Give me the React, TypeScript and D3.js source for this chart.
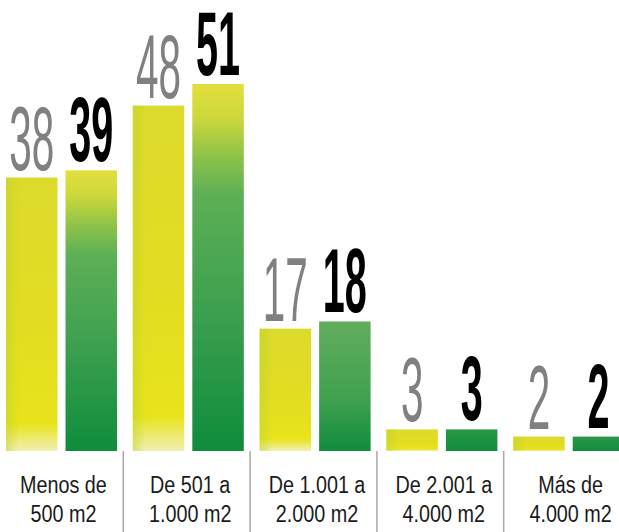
import React, { useEffect } from "react";
import * as d3 from "d3";

// Chart data
const categories = ["Menos de|500 m2", "De 501 a|1.000 m2", "De 1.001 a|2.000 m2", "De 2.001 a|4.000 m2", "Más de|4.000 m2"];
const series = ["s1", "s2"];
const valuesS1 = [38, 48, 17, 3, 2];
const valuesS2 = [39, 51, 18, 3, 2];

const W = 619;
const H = 532;
const baseY = 451;

const App: React.FC = () => {
  useEffect(() => {
    document.body.style.margin = "0";
  }, []);

  const x0 = d3.scaleBand().domain(categories).range([-4, 630]).paddingInner(0);
  const x1 = d3.scaleBand().domain(series).range([10, 121]).paddingInner(0.135);
  const y = d3.scaleLinear().domain([0, 51]).range([baseY, 84]);

  const font = "'Liberation Sans', Arial, sans-serif";

  return (
    <svg width={W} height={H} style={{ display: "block", background: "#fff" }}>
      <defs>
        <linearGradient id="yellowGrad" x1="0" y1="0" x2="0" y2="1">
          <stop offset="0%" stopColor="#dcda2c" />
          <stop offset="50%" stopColor="#e2dc22" />
          <stop offset="90%" stopColor="#e8e31c" />
          <stop offset="100%" stopColor="#f1f0b4" />
        </linearGradient>
        <linearGradient id="yellowSide" x1="0" y1="0" x2="1" y2="0">
          <stop offset="0%" stopColor="#b9d030" stopOpacity="0.45" />
          <stop offset="25%" stopColor="#b9d030" stopOpacity="0" />
          <stop offset="100%" stopColor="#ffffff" stopOpacity="0" />
        </linearGradient>
        {valuesS2.map((v, i) => {
          const top = y(v);
          const h = baseY - top;
          const tall = h > 200;
          return (
            <linearGradient
              key={i}
              id={`greenGrad${i}`}
              gradientUnits="userSpaceOnUse"
              x1="0"
              y1={top}
              x2="0"
              y2={baseY}
            >
              {tall && <stop offset="0%" stopColor="#e2df3e" />}
              {tall && <stop offset="9%" stopColor="#cdd83a" />}
              {tall && <stop offset="20%" stopColor="#8cc24a" />}
              {tall && <stop offset="30%" stopColor="#5eb055" />}
              {!tall && <stop offset="0%" stopColor={h > 60 ? "#62ad5c" : "#2a9746"} />}
              <stop offset="60%" stopColor={h > 60 ? "#3fa150" : "#1a9142"} />
              <stop offset="100%" stopColor="#0f8c3c" />
            </linearGradient>
          );
        })}
      </defs>

      {/* bars */}
      {categories.map((c, i) => {
        const gx = x0(c) as number;
        const a = valuesS1[i];
        const b = valuesS2[i];
        return (
          <g key={c} transform={`translate(${gx},0)`}>
            <rect
              x={x1("s1")}
              y={y(a)}
              width={x1.bandwidth()}
              height={baseY - y(a)}
              fill="url(#yellowGrad)"
            />
            <rect
              x={x1("s1")}
              y={y(a)}
              width={x1.bandwidth()}
              height={baseY - y(a)}
              fill="url(#yellowSide)"
            />
            <rect
              x={x1("s2")}
              y={y(b)}
              width={x1.bandwidth()}
              height={baseY - y(b)}
              fill={`url(#greenGrad${i})`}
            />
            {/* value labels */}
            <text
              transform={`translate(${(x1("s1") as number) + x1.bandwidth() / 2},${y(a) - 8}) scale(0.45,1)`}
              textAnchor="middle"
              fontFamily={font}
              fontSize={90}
              fill="#808080"
            >
              {a}
            </text>
            <text
              transform={`translate(${(x1("s2") as number) + x1.bandwidth() / 2},${y(b) - 9}) scale(0.44,1)`}
              textAnchor="middle"
              fontFamily={font}
              fontWeight="bold"
              fontSize={90}
              fill="#000"
            >
              {b}
            </text>
            {/* category labels */}
            {c.split("|").map((line, k) => (
              <text
                key={k}
                transform={`translate(${x0.bandwidth() / 2 + 4},${493 + k * 29}) scale(0.86,1)`}
                textAnchor="middle"
                fontFamily={font}
                fontSize={23}
                fill="#1a1a1a"
              >
                {line}
              </text>
            ))}
          </g>
        );
      })}

      {/* dividers */}
      {categories.slice(1).map((c) => (
        <line
          key={c}
          x1={(x0(c) as number) + 0.5}
          x2={(x0(c) as number) + 0.5}
          y1={baseY}
          y2={H}
          stroke="#a8a8a8"
          strokeWidth={1.5}
        />
      ))}
    </svg>
  );
};

export default App;
